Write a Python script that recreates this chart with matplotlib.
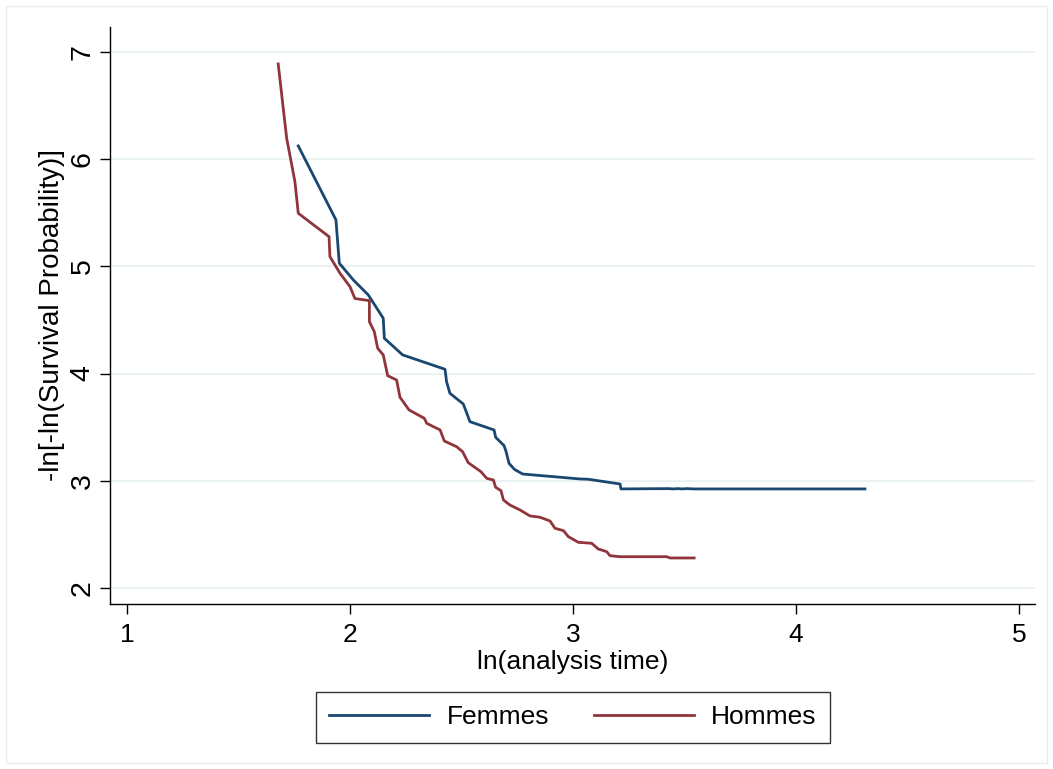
import matplotlib
matplotlib.use("Agg")
import matplotlib.pyplot as plt
from matplotlib.patches import Rectangle

plt.rcParams["font.family"] = ["Liberation Sans", "DejaVu Sans"]

# ln(analysis time) vs -ln[-ln(S)]
femmes_x = [1.768, 1.937, 1.952, 2.015, 2.082, 2.149, 2.154, 2.236, 2.426, 2.433,
            2.448, 2.508, 2.538, 2.646, 2.653, 2.691, 2.700, 2.713, 2.737, 2.774,
            3.031, 3.069, 3.211, 3.215, 3.43, 3.45, 3.47, 3.49, 3.51, 3.54, 4.309]
femmes_y = [6.123, 5.433, 5.029, 4.873, 4.733, 4.516, 4.329, 4.174, 4.040, 3.924,
            3.816, 3.716, 3.551, 3.474, 3.406, 3.327, 3.271, 3.163, 3.107, 3.063,
            3.017, 3.014, 2.970, 2.924, 2.927, 2.924, 2.927, 2.924, 2.927, 2.924, 2.924]

hommes_x = [1.678, 1.716, 1.753, 1.768, 1.906, 1.910, 1.955, 2.000, 2.022, 2.087,
            2.087, 2.109, 2.124, 2.149, 2.169, 2.209, 2.224, 2.265, 2.333, 2.344,
            2.404, 2.423, 2.478, 2.505, 2.530, 2.587, 2.613, 2.643, 2.653, 2.677,
            2.688, 2.717, 2.762, 2.807, 2.852, 2.897, 2.919, 2.957, 2.979, 3.024,
            3.084, 3.113, 3.151, 3.166, 3.211, 3.420, 3.435, 3.543]
hommes_y = [6.888, 6.195, 5.790, 5.495, 5.277, 5.090, 4.936, 4.810, 4.700, 4.680,
            4.484, 4.391, 4.236, 4.174, 3.980, 3.940, 3.779, 3.660, 3.583, 3.536,
            3.474, 3.371, 3.318, 3.271, 3.169, 3.085, 3.023, 3.007, 2.939, 2.908,
            2.821, 2.774, 2.728, 2.672, 2.660, 2.625, 2.557, 2.535, 2.479, 2.426,
            2.417, 2.364, 2.339, 2.301, 2.292, 2.292, 2.280, 2.280]

x_ticks = [1, 2, 3, 4, 5]
y_ticks = [2, 3, 4, 5, 6, 7]

BLUE = "#1a476f"
RED = "#90353b"

fig = plt.figure(figsize=(10.53, 7.69), dpi=100)
ax = fig.add_axes([0.1045, 0.2146, 0.8785, 0.7504])

for y in y_ticks:
    ax.axhline(y, color="#eaf2f3", lw=1.5, zorder=0)

ax.plot(femmes_x, femmes_y, color=BLUE, lw=2, label="Femmes")
ax.plot(hommes_x, hommes_y, color=RED, lw=2, label="Hommes")

ax.set_xlim(0.924, 5.072)
ax.set_ylim(1.851, 7.233)
ax.set_xticks(x_ticks)
ax.set_yticks(y_ticks)
ax.tick_params(axis="both", direction="out", length=7.5, width=1)
ax.tick_params(axis="x", labelsize=19, pad=6)
ax.tick_params(axis="y", labelsize=20.5, pad=3)
for lbl in ax.get_yticklabels():
    lbl.set_rotation(90)
    lbl.set_va("center")
for s in ["top", "right"]:
    ax.spines[s].set_visible(False)
for s in ["left", "bottom"]:
    ax.spines[s].set_linewidth(1)
ax.set_xlabel("ln(analysis time)", fontsize=19, labelpad=2)
ax.set_ylabel("-ln[-ln(Survival Probability)]", fontsize=20, labelpad=3)

leg = fig.legend(loc="center", bbox_to_anchor=(0.544, 0.067), ncol=2,
                 fontsize=19, frameon=True, fancybox=False, edgecolor="black",
                 handlelength=3.8, handletextpad=0.65, columnspacing=1.7,
                 borderpad=0.5)
leg.get_frame().set_linewidth(1)

fig.patches.append(Rectangle((0.006, 0.008), 0.988, 0.984, transform=fig.transFigure,
                             fill=False, edgecolor="#e8ecee", lw=1))

fig.savefig("out.png", dpi=100)
